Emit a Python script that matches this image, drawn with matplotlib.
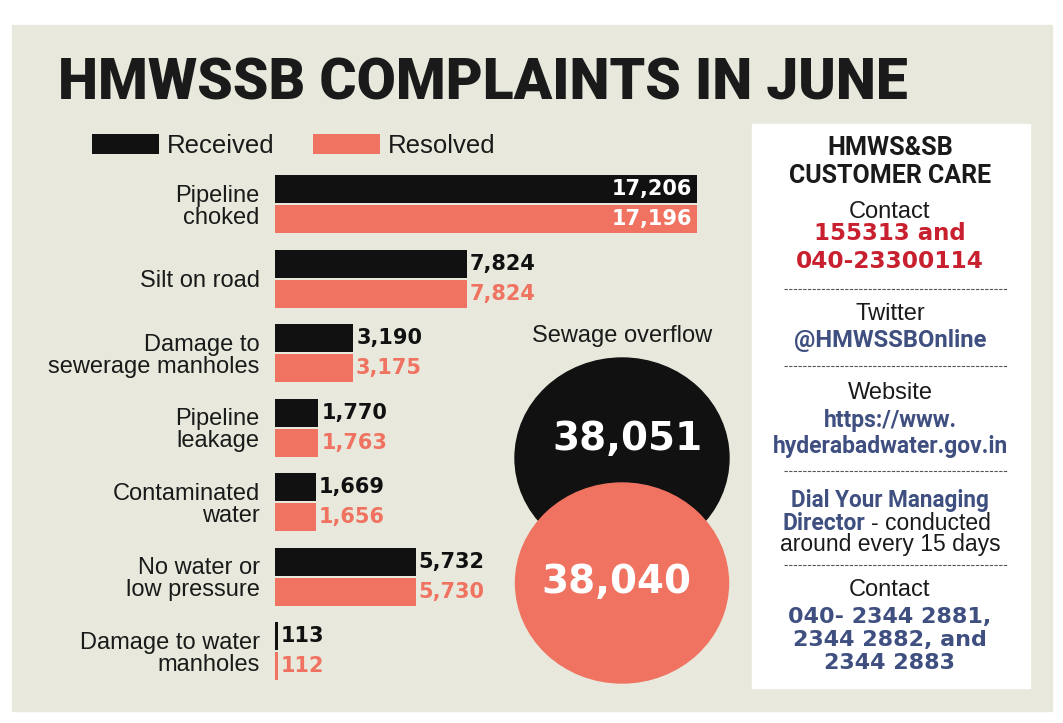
import matplotlib
matplotlib.use('Agg')
import numpy as np
import matplotlib.pyplot as plt
from matplotlib.patches import Rectangle, Ellipse
from matplotlib import font_manager

# Dane z wykresu
categories = ['Pipeline\nchoked', 'Silt on road', 'Damage to\nsewerage manholes',
              'Pipeline\nleakage', 'Contaminated\nwater', 'No water or\nlow pressure',
              'Damage to water\nmanholes']
received = [17206, 7824, 3190, 1770, 1669, 5732, 113]
resolved = [17196, 7824, 3175, 1763, 1656, 5730, 112]
sewage_received = 38051
sewage_resolved = 38040

BLACK = '#111111'
SALMON = '#F07361'
BEIGE = '#E8E9DC'
RED = '#C8202E'
BLUE = '#3E4F80'
TXT = '#1A1A1A'

names = {f.name for f in font_manager.fontManager.ttflist}
COND = 'Roboto' if 'Roboto' in names else 'DejaVu Sans'
REG = 'Liberation Sans'
HEAVY = 'DejaVu Sans'

W, H = 1063, 723
fig = plt.figure(figsize=(W / 100, H / 100), dpi=100)
fig.patch.set_facecolor('white')
renderer = fig.canvas.get_renderer()


def fit(t, width):
    # dopasowanie rozmiaru czcionki do szerokości z oryginału
    bb = t.get_window_extent(renderer)
    t.set_fontsize(t.get_fontsize() * width / bb.width)
    return t


# tło w pikselach
bg = fig.add_axes([0, 0, 1, 1])
bg.set_xlim(0, W)
bg.set_ylim(H, 0)
bg.axis('off')
bg.add_patch(Rectangle((12, 25), 1040, 686, color=BEIGE, zorder=0))
bg.add_patch(Rectangle((752, 124), 278, 564, color='white', zorder=1))

title = bg.text(58, 100, 'HMWSSB COMPLAINTS IN JUNE', family=COND, weight='heavy',
                fontsize=40, color=TXT, va='baseline', ha='left')
fit(title, 847)

# wykres słupkowy
scale = 0.02453  # px na jednostkę
x0 = 275
xmax = 19000
unit = 74.5
c0 = 204
ax = fig.add_axes([x0 / W, 1 - (c0 + 6.6 * unit) / H, xmax * scale / W, 7.2 * unit / H])
ax.set_xlim(0, xmax)
ax.set_ylim(6.6, -0.6)
ax.patch.set_alpha(0)
for s in ax.spines.values():
    s.set_visible(False)
ax.set_xticks([])

y = np.arange(len(categories))
off = 15 / unit
hgt = 28 / unit
b1 = ax.barh(y - off, received, height=hgt, color=BLACK, label='Received')
b2 = ax.barh(y + off, resolved, height=hgt, color=SALMON, label='Resolved')

ax.set_yticks(y)
ax.set_yticklabels(categories, family=REG, fontsize=17, color=TXT)
ax.tick_params(axis='y', length=0, pad=11)
for t in ax.get_yticklabels():
    t.set_linespacing(1.0)

for vals, yy, col in [(received, y - off, BLACK), (resolved, y + off, SALMON)]:
    for v, yv in zip(vals, yy):
        inside = v > 0.8 * max(received)
        ax.annotate(f'{v:,}', (v, yv), xytext=(-3.6 if inside else 2.2, 0),
                    textcoords='offset points', ha='right' if inside else 'left',
                    va='center', family=HEAVY, weight='bold', fontsize=15,
                    color='white' if inside else col)

leg = ax.legend(handles=[b1, b2], loc='upper left', ncol=2, frameon=False,
                bbox_to_anchor=(92 / W, 1 - 134 / H), bbox_transform=fig.transFigure,
                borderpad=0, borderaxespad=0, handlelength=2.6, handleheight=0.78,
                handletextpad=0.31, columnspacing=1.5,
                prop={'family': REG, 'size': 18.5})
for t in leg.get_texts():
    t.set_color(TXT)

# koła - przelewy kanalizacji
bg.text(622, 336, 'Sewage overflow', family=REG, fontsize=17, color=TXT,
        ha='center', va='center')
bg.add_patch(Ellipse((622, 458), 214, 200, color=BLACK, zorder=2))
bg.add_patch(Ellipse((622, 583), 213, 200, color=SALMON, zorder=3))
bg.text(627, 439, f'{sewage_received:,}', family=HEAVY, weight='bold', fontsize=28,
        color='white', ha='center', va='center', zorder=4)
bg.text(616, 582, f'{sewage_resolved:,}', family=HEAVY, weight='bold', fontsize=28,
        color='white', ha='center', va='center', zorder=4)

# panel obsługi klienta
cx = 890


def ctext(yy, s, kind, color=TXT, size=None, width=None):
    if kind == 'cond':
        t = bg.text(cx, yy, s, family=COND, weight='bold', fontsize=size or 19,
                    color=color, ha='center', va='center', zorder=5)
    elif kind == 'heavy':
        t = bg.text(cx, yy, s, family=HEAVY, weight='bold', fontsize=size or 16,
                    color=color, ha='center', va='center', zorder=5)
    else:
        t = bg.text(cx, yy, s, family=REG, fontsize=size or 17, color=color,
                    ha='center', va='center', zorder=5)
    if width:
        fit(t, width)
    return t


ctext(148, 'HMWS&SB', 'cond', TXT, width=126)
ctext(176, 'CUSTOMER CARE', 'cond', TXT, width=202)
ctext(212, 'Contact', 'reg')
ctext(234, '155313 and', 'heavy', RED, 16.5)
ctext(261, '040-23300114', 'heavy', RED, width=188)
ctext(314, 'Twitter', 'reg')
ctext(340, '@HMWSSBOnline', 'cond', BLUE, width=193)
ctext(393, 'Website', 'reg')
ctext(420, 'https://www.', 'cond', BLUE, width=134)
ctext(447, 'hyderabadwater.gov.in', 'cond', BLUE, width=236)
ctext(500, 'Dial Your Managing', 'cond', BLUE, width=198)
d = bg.text(865, 523, 'Director', family=COND, weight='bold', fontsize=19,
            color=BLUE, ha='right', va='center', zorder=5)
fit(d, 83)
bg.text(871, 523, '- conducted', family=REG, fontsize=16.5, color=TXT,
        ha='left', va='center', zorder=5)
ctext(545, 'around every 15 days', 'reg', TXT, 16.5)
ctext(590, 'Contact', 'reg')
ctext(617, '040- 2344 2881,', 'heavy', BLUE, 16)
ctext(640, '2344 2882, and', 'heavy', BLUE, 16)
ctext(663, '2344 2883', 'heavy', BLUE, 16)

for yy in [289, 366, 471, 565]:
    bg.plot([784, 1007], [yy, yy], color='#555555', lw=0.8, ls=(0, (3, 1.2)), zorder=5)

fig.savefig('out.png', dpi=100)
